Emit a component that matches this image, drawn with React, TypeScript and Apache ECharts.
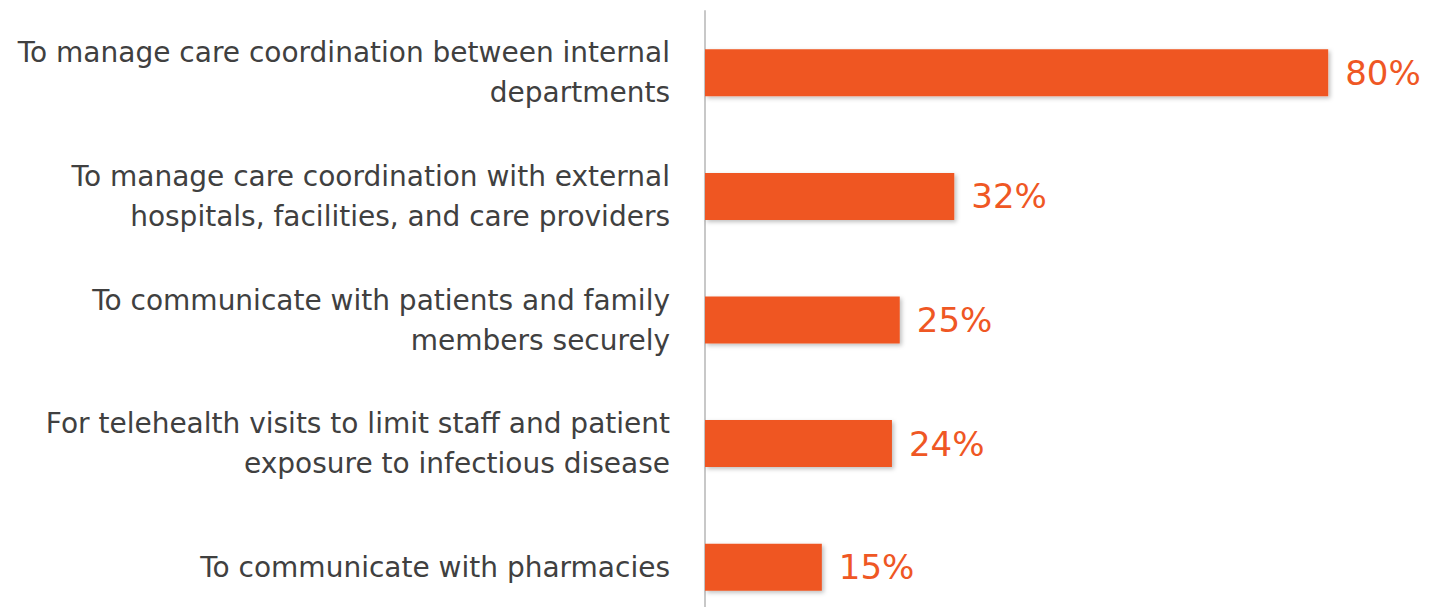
import React, { useEffect, useRef } from "react";
import * as echarts from "echarts";

const categories = [
  "To manage care coordination between internal\ndepartments",
  "To manage care coordination with external\nhospitals, facilities, and care providers",
  "To communicate with patients and family\nmembers securely",
  "For telehealth visits to limit staff and patient\nexposure to infectious disease",
  "To communicate with pharmacies",
];
const values = [80, 32, 25, 24, 15];

export default function App() {
  const ref = useRef<HTMLDivElement>(null);
  useEffect(() => {
    if (!ref.current) return;
    const chart = echarts.init(ref.current, null, { renderer: "svg" });
    chart.setOption({
      animation: false,
      backgroundColor: "#ffffff",
      grid: { left: 705, top: 11, width: 779, height: 618, outerBoundsMode: "none", containLabel: false },
      xAxis: {
        type: "value",
        min: 0,
        max: 100,
        show: false,
      },
      yAxis: {
        type: "category",
        inverse: true,
        data: categories,
        axisLine: { show: true, lineStyle: { color: "#c8c8c8", width: 2 } },
        axisTick: { show: false },
        axisLabel: {
          margin: 35,
          fontSize: 28,
          lineHeight: 40,
          color: "#404040",
          fontFamily: "DejaVu Sans",
          align: "right",
        },
      },
      series: [
        {
          type: "bar",
          data: values,
          barWidth: 47,
          itemStyle: {
            color: "#EF5724",
            shadowColor: "rgba(0,0,0,0.25)",
            shadowBlur: 4,
            shadowOffsetX: 2,
            shadowOffsetY: 2,
          },
          label: {
            show: true,
            position: "right",
            distance: 17,
            formatter: "{c}%",
            fontSize: 34,
            color: "#EF5724",
            fontFamily: "DejaVu Sans",
          },
        },
      ],
    });
    return () => chart.dispose();
  }, []);
  return (
    <div
      ref={ref}
      style={{ position: "absolute", left: 0, top: 0, width: 1440, height: 607 }}
    />
  );
}
